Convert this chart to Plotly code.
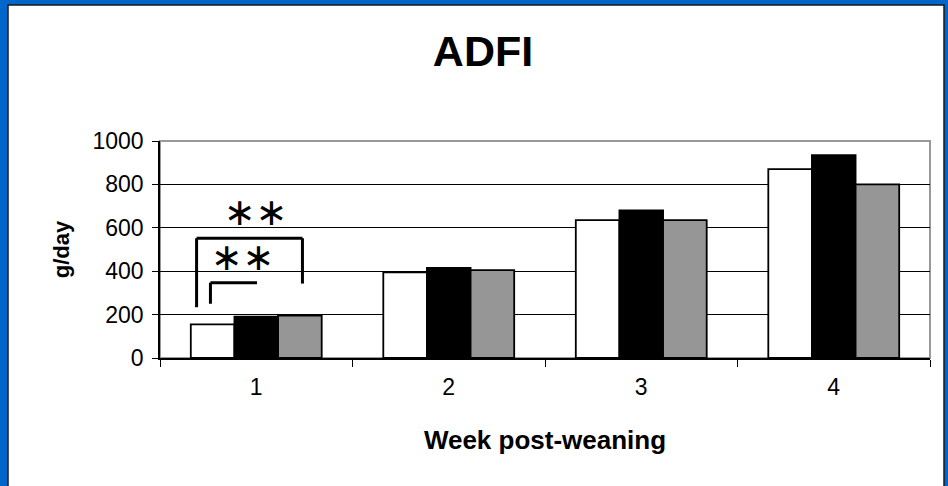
import plotly.graph_objects as go

# Average daily feed intake per week after weaning
weeks = ["1", "2", "3", "4"]
group_a = [155, 395, 635, 870]
group_b = [190, 415, 680, 935]
group_c = [195, 405, 635, 800]

y_ticks = [0, 200, 400, 600, 800, 1000]

FONT = "Liberation Sans, Arial, sans-serif"
W, H = 948, 486
L, R, T, B = 160, 18, 141, 128


def px_x(p):
    return (p - L) / (W - L - R)


def px_y(p):
    return (H - B - p) / (H - T - B)


fig = go.Figure()
for vals, fill in [(group_a, "white"), (group_b, "black"), (group_c, "#969696")]:
    fig.add_trace(go.Bar(
        x=weeks, y=vals,
        marker=dict(color=fill, line=dict(color="black", width=1.8)),
        showlegend=False,
    ))

shapes = [
    # white slide panel over the blue background
    dict(type="rect", xref="paper", yref="paper", layer="below",
         x0=px_x(8), x1=px_x(944), y0=px_y(5), y1=px_y(520),
         fillcolor="white", line=dict(color="#1a1a1a", width=1.5)),
    # plot area frame
    dict(type="rect", xref="paper", yref="paper", layer="below",
         x0=0, x1=1, y0=0, y1=1, line=dict(color="#999999", width=2)),
]

# significance brackets for week 1
bk = dict(color="black", width=3)
shapes += [
    dict(type="line", xref="x", yref="y", x0=-0.31, x1=-0.31, y0=234, y1=552, line=bk),
    dict(type="line", xref="x", yref="y", x0=-0.31, x1=0.24, y0=552, y1=552, line=bk),
    dict(type="line", xref="x", yref="y", x0=0.24, x1=0.24, y0=552, y1=343, line=bk),
    dict(type="line", xref="x", yref="y", x0=-0.238, x1=-0.238, y0=250, y1=347, line=bk),
    dict(type="line", xref="x", yref="y", x0=-0.238, x1=0.004, y0=347, y1=347, line=bk),
]

annotations = [
    dict(x=0.0, y=672, xref="x", yref="y", text="∗∗", showarrow=False,
         font=dict(family="DejaVu Sans", size=38, color="black")),
    dict(x=-0.07, y=464, xref="x", yref="y", text="∗∗", showarrow=False,
         font=dict(family="DejaVu Sans", size=38, color="black")),
]

fig.update_layout(
    width=W, height=H,
    margin=dict(l=L, r=R, t=T, b=B),
    paper_bgcolor="#0066CC",
    plot_bgcolor="rgba(0,0,0,0)",
    barmode="group", bargap=0.32, bargroupgap=0,
    font=dict(family=FONT, color="black"),
    title=dict(text="<b>ADFI</b>", x=px_x(483), xref="paper", xanchor="center",
               y=1 - 51 / H, yanchor="middle", yref="container",
               font=dict(size=43, family=FONT, color="black")),
    shapes=shapes,
    annotations=annotations,
)

fig.update_xaxes(
    type="category", tickson="boundaries", ticks="outside", ticklen=7,
    tickcolor="black", tickwidth=1, showline=True, linecolor="black",
    linewidth=1.5, showgrid=False, tickfont=dict(size=23), ticklabelstandoff=8,
    title=dict(text="<b>Week post-weaning</b>", font=dict(size=26), standoff=31),
)
fig.update_yaxes(
    range=[0, 1000], tickvals=y_ticks, ticks="outside", ticklen=6,
    tickcolor="black", tickwidth=1, showline=True, linecolor="black",
    linewidth=1.5, showgrid=True, gridcolor="black", gridwidth=1,
    zeroline=False, tickfont=dict(size=23), ticklabelstandoff=4,
    title=dict(text="<b>g/day</b>", font=dict(size=22), standoff=17),
)

fig.write_html("out.html")
